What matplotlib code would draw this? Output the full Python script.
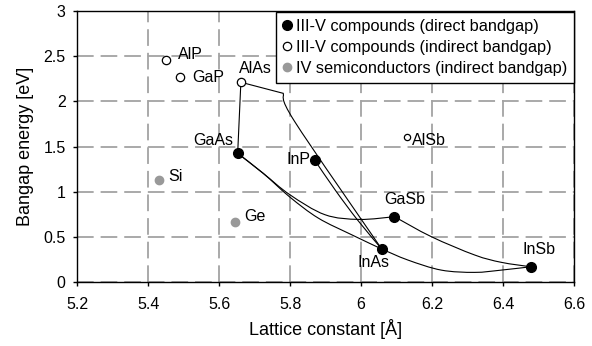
import matplotlib
matplotlib.use('Agg')
import matplotlib.pyplot as plt
from matplotlib.path import Path
from matplotlib.patches import PathPatch
from matplotlib.ticker import FormatStrFormatter
import numpy as np

plt.rcParams['font.family'] = ['Liberation Sans', 'DejaVu Sans']
plt.rcParams['lines.scale_dashes'] = False

# binary compounds: lattice constant [A] and bandgap [eV]
direct_names = ['GaAs', 'InP', 'GaSb', 'InAs', 'InSb']
direct_a = [5.652, 5.869, 6.094, 6.058, 6.478]
direct_eg = [1.425, 1.35, 0.725, 0.368, 0.172]

indirect_names = ['AlP', 'GaP', 'AlAs', 'AlSb']
indirect_a = [5.451, 5.489, 5.661, 6.13]
indirect_eg = [2.456, 2.264, 2.21, 1.6]

group4_names = ['Si', 'Ge']
group4_a = [5.431, 5.645]
group4_eg = [1.127, 0.666]

# ternary alloys, points along each curve (a, Eg)
algaas = [(5.652, 1.425), (5.661, 2.21)]
alinas_x = [(5.661, 2.21), (5.780, 2.088)]
alinas_g = [(5.780, 2.088), (5.812, 1.78), (6.058, 0.368)]
inasp = [(5.869, 1.35), (5.929, 1.008), (5.990, 0.688), (6.058, 0.368)]
ingaas = [(5.652, 1.425), (5.724, 1.204), (5.799, 0.942), (5.879, 0.710),
          (5.973, 0.526), (6.058, 0.368)]
gaassb = [(5.652, 1.425), (5.724, 1.204), (5.799, 0.968), (5.898, 0.747),
          (5.995, 0.695), (6.094, 0.725)]
gainsb = [(6.094, 0.725), (6.198, 0.504), (6.320, 0.302), (6.395, 0.221),
          (6.478, 0.172)]
inassb = [(6.058, 0.368), (6.132, 0.246), (6.226, 0.135), (6.320, 0.110),
          (6.395, 0.135), (6.478, 0.172)]

xticks = [5.2, 5.4, 5.6, 5.8, 6.0, 6.2, 6.4, 6.6]
yticks = [0, 0.5, 1, 1.5, 2, 2.5, 3]


def smooth_path(pts):
    # catmull-rom through the points, as cubic bezier segments
    pts = np.asarray(pts, dtype=float)
    n = len(pts)
    verts = [pts[0]]
    codes = [Path.MOVETO]
    for i in range(n - 1):
        p0 = pts[max(i - 1, 0)]
        p1 = pts[i]
        p2 = pts[i + 1]
        p3 = pts[min(i + 2, n - 1)]
        verts += [p1 + (p2 - p0) / 6, p2 - (p3 - p1) / 6, p2]
        codes += [Path.CURVE4] * 3
    return Path(verts, codes)


fig = plt.figure(figsize=(5.92, 3.46), dpi=100)
ax = fig.add_axes([0.1306, 0.184, 0.8390, 0.785])

# straight pieces
for pts in (algaas, alinas_x):
    xs, ys = zip(*pts)
    ax.plot(xs, ys, color='black', lw=0.8, zorder=3)
# bowed pieces
for pts in (alinas_g, inasp, ingaas, gaassb, gainsb, inassb):
    ax.add_patch(PathPatch(smooth_path(pts), fill=False, edgecolor='black',
                           lw=0.8, zorder=3))

ax.plot(direct_a, direct_eg, 'o', ms=7, color='black', mec='black',
        zorder=5, label='III-V compounds (direct bandgap)')
ax.plot(indirect_a[:3], indirect_eg[:3], 'o', ms=6, mfc='white',
        mec='black', mew=0.9, zorder=5,
        label='III-V compounds (indirect bandgap)')
ax.plot(indirect_a[3:], indirect_eg[3:], 'o', ms=4.5, mfc='white',
        mec='black', mew=0.9, zorder=5)
ax.plot(group4_a, group4_eg, 'o', ms=6, color='#999999', mec='#999999',
        zorder=5, label='IV semiconductors (indirect bandgap)')

# label offsets in points: (dx, dy, ha)
offsets = {
    'GaAs': (-3.4, 8.9, 'right'), 'InP': (-3.1, 0.7, 'right'),
    'GaSb': (7.4, 12.5, 'center'), 'InAs': (-6.1, -9.6, 'center'),
    'InSb': (6.0, 12.7, 'center'), 'AlP': (8.1, 3.6, 'left'),
    'GaP': (8.6, 0.0, 'left'), 'AlAs': (10.8, 9.6, 'center'),
    'AlSb': (3.2, -1.9, 'left'), 'Si': (6.5, 2.6, 'left'),
    'Ge': (6.3, 3.8, 'left'),
}
names = direct_names + indirect_names + group4_names
xs = direct_a + indirect_a + group4_a
ys = direct_eg + indirect_eg + group4_eg
for name, x, y in zip(names, xs, ys):
    dx, dy, ha = offsets[name]
    ax.annotate(name, (x, y), xytext=(dx, dy), textcoords='offset points',
                ha=ha, va='center', fontsize=11.5, zorder=6)

ax.set_xlim(5.2, 6.6)
ax.set_ylim(0, 3)
ax.set_xticks(xticks)
ax.set_yticks(yticks)
ax.xaxis.set_major_formatter(FormatStrFormatter('%g'))
ax.yaxis.set_major_formatter(FormatStrFormatter('%g'))
ax.tick_params(direction='out', length=3, width=1, labelsize=11.5)
ax.tick_params(axis='x', pad=7.5)
ax.tick_params(axis='y', pad=5.5)
ax.grid(True, color='#a3a3a3', lw=1.3, linestyle=(0, (12, 5)))
ax.set_axisbelow(True)
for s in ax.spines.values():
    s.set_linewidth(1.0)
    s.set_color('black')

ax.set_xlabel('Lattice constant [Å]', fontsize=13, labelpad=5)
ax.set_ylabel('Bangap energy [eV]', fontsize=13, labelpad=7)

leg = ax.legend(loc='upper right', bbox_to_anchor=(1.0, 0.995),
                borderaxespad=0, fontsize=11.8, frameon=True, fancybox=False,
                framealpha=1, edgecolor='black', handlelength=0.6,
                handletextpad=0.25, borderpad=0.4, labelspacing=0.38,
                numpoints=1)
leg.get_frame().set_linewidth(1.0)
leg.set_zorder(10)

fig.savefig('out.png', dpi=100)
